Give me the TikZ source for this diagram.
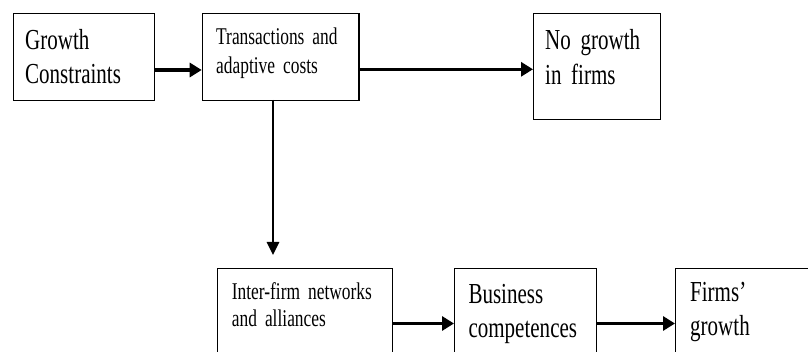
\documentclass[tikz,border=0pt]{standalone}
\usepackage{fontspec}
\setmainfont[FakeStretch=0.725]{Liberation Serif}
\usetikzlibrary{arrows.meta,calc}
\newcommand{\tightspace}{\fontdimen2\font=0.19em\fontdimen3\font=0.05em\fontdimen4\font=0.03em\relax}
\tikzset{
  box/.style={draw=black, line width=1.3pt, inner sep=0pt, anchor=north west, fill=none},
  bigtxt/.style={font=\fontsize{29}{34.5}\selectfont\tightspace, text width=220pt, align=left, inner sep=0pt, anchor=base west},
  smalltxt/.style={font=\fontsize{24}{27.8}\selectfont\tightspace, text width=220pt, align=left, inner sep=0pt, anchor=base west},
  arr/.style={line width=3.4pt, -{Triangle[length=12pt,width=14pt]}},
  varr/.style={line width=2.7pt, -{Triangle[length=13pt,width=12pt]}}
}
\begin{document}
\begin{tikzpicture}[x=1pt,y=-1pt]
\useasboundingbox (0,0) rectangle (808,352);
\clip (0,0) rectangle (808,352);
\fill[white] (0,0) rectangle (808,352);
% boxes
\node[box, minimum width=141.3pt, minimum height=87.3pt] (b1) at (12.7,12.7) {};
\node[box, minimum width=156.6pt, minimum height=87.3pt] (b2) at (201.7,12.7) {};
\node[box, minimum width=127pt, minimum height=106.3pt] (b3) at (533,12.7) {};
\node[box, minimum width=175pt, minimum height=110pt] (b4) at (217,268) {};
\node[box, minimum width=142pt, minimum height=110pt] (b5) at (454,268) {};
\node[box, minimum width=150pt, minimum height=110pt] (b6) at (675,268) {};
% texts
\node[bigtxt] (t1) at (25,49.3) {Growth\\Constraints};
\node[smalltxt, font=\fontsize{24}{28.3}\selectfont\tightspace] (t2) at (216,45) {Transactions and\\adaptive costs};
\node[bigtxt] (t3) at (545,50) {No growth\\in firms};
\node[smalltxt, font=\fontsize{24}{26.7}\selectfont\tightspace] (t4) at (231.7,300) {Inter-firm networks\\and alliances};
\node[bigtxt, font=\fontsize{29}{34}\selectfont\tightspace] (t5) at (468.3,303.3) {Business\\competences};
\node[bigtxt, font=\fontsize{29}{34.5}\selectfont\tightspace] (t6) at (690,301.5) {Firms’\\growth};
% connectors
\coordinate (ya) at (0,70);
\coordinate (yb) at (0,69.3);
\coordinate (yc) at (0,323.5);
\coordinate (v1) at (273,100);
\draw[arr] (b1.east |- ya) -- (b2.west |- ya);
\draw[arr] (b2.east |- yb) -- (b3.west |- yb);
\draw[varr, shorten >=13pt] (v1) -- (v1 |- b4.north);
\draw[arr] (b4.east |- yc) -- (b5.west |- yc);
\draw[arr] (b5.east |- yc) -- (b6.west |- yc);
\end{tikzpicture}
\end{document}
